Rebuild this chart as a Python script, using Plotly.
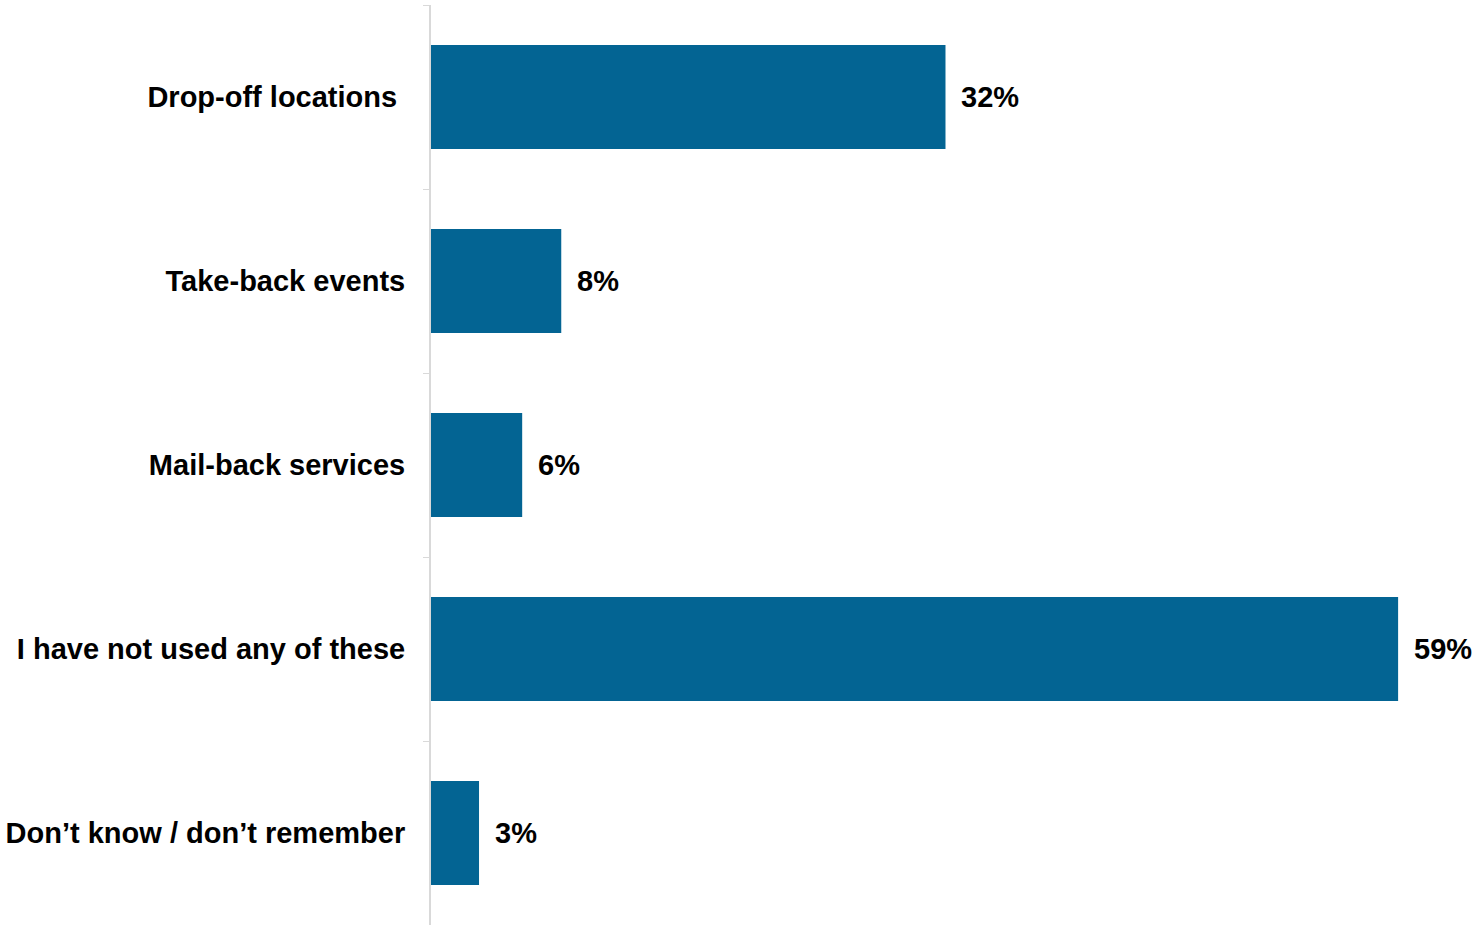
import plotly.graph_objects as go

categories = [
    "Drop-off locations\u00a0",
    "Take-back events",
    "Mail-back services",
    "I have not used any of these",
    "Don\u2019t know / don\u2019t remember",
]
values = [31.6, 8.0, 5.6, 59.4, 2.95]
value_labels = ["32%", "8%", "6%", "59%", "3%"]

bar_color = "#036493"
font_family = "Liberation Sans, Arial, sans-serif"

fig = go.Figure()
fig.add_trace(go.Bar(
    y=categories,
    x=values,
    orientation="h",
    marker=dict(color=bar_color, line=dict(width=0)),
    hoverinfo="skip",
))

for c, v, t in zip(categories, values, value_labels):
    fig.add_annotation(
        x=v, y=c, text="<b>%s</b>" % t, showarrow=False,
        xanchor="left", yanchor="middle", xshift=14,
        font=dict(family=font_family, size=29, color="#000000"),
    )

fig.update_layout(
    width=1473, height=926,
    margin=dict(l=431, r=0, t=5, b=1),
    plot_bgcolor="white", paper_bgcolor="white",
    bargap=0.435,
    showlegend=False,
    font=dict(family=font_family, size=29, color="#000000"),
)
fig.update_xaxes(range=[0, 64], visible=False, showgrid=False, zeroline=False)
fig.update_yaxes(
    autorange="reversed",
    showline=True, linecolor="#d9d9d9", linewidth=2,
    ticks="outside", ticklen=6, tickcolor="#d9d9d9", tickwidth=1,
    tickson="boundaries",
    ticklabelstandoff=18,
    tickfont=dict(family=font_family, size=29, color="#000000", weight="bold"),
    showgrid=False, zeroline=False,
)

fig.write_html(
    "out.html",
    config={"displayModeBar": False},
    post_script="document.body.style.margin='0';document.body.style.overflow='hidden';",
)
